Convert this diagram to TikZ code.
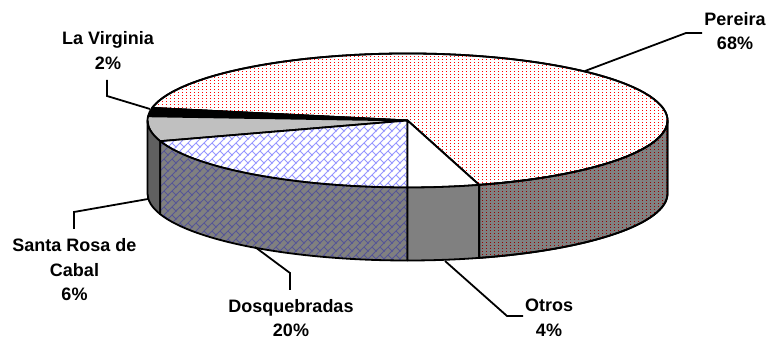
\documentclass[tikz,border=0pt]{standalone}
\usepackage{fontspec}
\setmainfont{Liberation Sans}
\usetikzlibrary{patterns.meta}
\definecolor{redtop}{RGB}{255,0,0}
\definecolor{redside}{RGB}{150,0,0}
\definecolor{bluetop}{RGB}{150,150,255}
\definecolor{blueside}{RGB}{85,85,150}
\definecolor{sidegray}{RGB}{128,128,128}
\definecolor{silver}{RGB}{192,192,192}
\definecolor{darkside}{RGB}{96,96,96}
\tikzdeclarepattern{
  name=dbrick,
  type=uncolored,
  bottom left={(-1pt,-1pt)},
  top right={(9pt,9pt)},
  tile size={(8pt,8pt)},
  code={
    \pgfsetlinewidth{0.9pt}
    \pgfpathmoveto{\pgfpoint{-1pt}{-1pt}}
    \pgfpathlineto{\pgfpoint{9pt}{9pt}}
    \pgfpathmoveto{\pgfpoint{4pt}{4pt}}
    \pgfpathlineto{\pgfpoint{8.5pt}{-0.5pt}}
    \pgfusepath{stroke}
  }
}
\tikzset{
  outl/.style={draw=black, line width=1.8pt, line join=round},
  pertop/.style={outl, fill=white},
  perside/.style={outl, fill=sidegray},
  dostop/.style={outl, preaction={fill=white}, pattern={dbrick}, pattern color=bluetop},
  dosside/.style={outl, preaction={fill=sidegray}, pattern={dbrick}, pattern color=blueside},
  lvtop/.style={outl, fill=black},
  srtop/.style={outl, fill=silver},
  srside/.style={outl, fill=darkside},
  ottop/.style={outl, fill=white},
  otside/.style={outl, fill=sidegray},
  dotcol/.style={line width=1pt, dash pattern=on 1pt off 2pt},
  leader/.style={draw=black, line width=1.8pt, line join=miter},
  lbl/.style={font=\fontsize{18}{24.5}\selectfont\bfseries, align=center, inner sep=0pt}
}
\newcommand\toppath[2]{(C) -- ++(#1:260 and 67) arc[start angle=#1, end angle=#2, x radius=260, y radius=67] -- cycle}
\newcommand\sidepath[2]{(C) ++(#1:260 and 67) arc[start angle=#1, end angle=#2, x radius=260, y radius=67]
    -- ++(0,-73) arc[start angle=#2, end angle=#1, x radius=260, y radius=67] -- cycle}
\newcommand\pietop[3]{\draw[#3] \toppath{#1}{#2};}
\newcommand\pieside[3]{\draw[#3] \sidepath{#1}{#2};}
\begin{document}
\begin{tikzpicture}[x=1pt,y=1pt]
\useasboundingbox (0,0) rectangle (768,339);
\coordinate (C) at (407.5,218.5);
% Pereira top with red dots
\pietop{-74}{169.2}{pertop}
\begin{scope}
  \clip \toppath{-74}{169.2};
  \foreach \xx in {150,154,...,666} {\draw[dotcol, redtop] (\xx,150) -- (\xx,288);}
\end{scope}
\draw[outl] \toppath{-74}{169.2};
% other top faces
\pietop{169.2}{176.4}{lvtop}
\pietop{176.4}{198}{srtop}
\pietop{198}{270}{dostop}
\pietop{270}{286}{ottop}
% sides
\pieside{180}{198}{srside}
\pieside{198}{270}{dosside}
\pieside{270}{286}{otside}
\pieside{286}{360}{perside}
\begin{scope}
  \clip \sidepath{286}{360};
  \foreach \xx in {474,478,...,666} {\draw[dotcol, redside] (\xx,78) -- (\xx,222);}
\end{scope}
\draw[outl] \sidepath{286}{360};
% leader points
\coordinate (pe1) at (585,268);
\coordinate (pe2) at (686,306);
\coordinate (pe3) at (702,306);
\coordinate (lv1) at (150,230);
\coordinate (lv2) at (107,243);
\coordinate (lv3) at (107,259);
\coordinate (sr1) at (148,140);
\coordinate (sr2) at (74,127);
\coordinate (sr3) at (74,110);
\coordinate (dq1) at (255,92);
\coordinate (dq2) at (290,66);
\coordinate (dq3) at (290,49);
\coordinate (ot1) at (445,78);
\coordinate (ot2) at (507,23);
\coordinate (ot3) at (523,23);
\draw[leader] (pe1) -- (pe2) -- (pe3);
\draw[leader] (lv1) -- (lv2) -- (lv3);
\draw[leader] (sr1) -- (sr2) -- (sr3);
\draw[leader] (dq1) -- (dq2) -- (dq3);
\draw[leader] (ot1) -- (ot2) -- (ot3);
% labels
\node[lbl] (lPer) at (735,307.75) {Pereira\\68\%};
\node[lbl] (lLV) at (108,288.25) {La Virginia\\2\%};
\node[lbl] (lSR) at (74.5,69.25) {Santa Rosa de\\Cabal\\6\%};
\node[lbl] (lDQ) at (291,21) {Dosquebradas\\20\%};
\node[lbl] (lOT) at (549,21) {Otros\\4\%};
\end{tikzpicture}
\end{document}
